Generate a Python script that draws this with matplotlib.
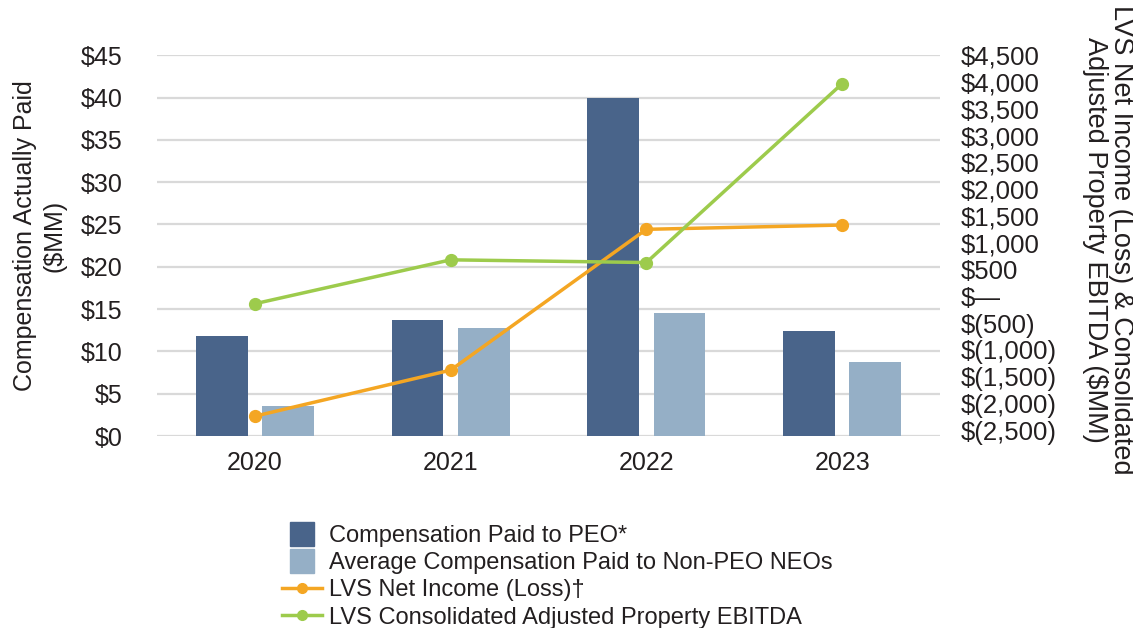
import numpy as np
import matplotlib
matplotlib.use("Agg")
import matplotlib.pyplot as plt
from matplotlib.lines import Line2D

# data
years = ["2020", "2021", "2022", "2023"]
peo_comp = [11.8, 13.7, 39.9, 12.4]          # $MM
non_peo_comp = [3.5, 12.8, 14.5, 8.7]        # $MM
net_income = [-2240, -1380, 1250, 1330]      # $MM
adj_ebitda = [-140, 680, 630, 3970]          # $MM

left_ticks = list(range(0, 50, 5))
right_ticks = list(range(-2500, 5000, 500))

PEO_COLOR = "#49648A"
NEO_COLOR = "#95AFC6"
NI_COLOR = "#F4A623"
EBITDA_COLOR = "#9DCB4C"
TEXT_COLOR = "#231F20"

plt.rcParams["font.family"] = ["Liberation Sans", "DejaVu Sans"]


def right_fmt(v):
    if v == 0:
        return "$\u2014"
    if v < 0:
        return f"$({abs(v):,})"
    return f"${v:,}"


W, H = 1133, 628
fig = plt.figure(figsize=(W / 100, H / 100), dpi=100)
ax = fig.add_axes([157 / W, 1 - 436 / H, (940 - 157) / W, (436 - 55.3) / H])

x = np.arange(len(years))
width = 0.264
offset = 0.169
ax.bar(x - offset, peo_comp, width, color=PEO_COLOR, zorder=2)
ax.bar(x + offset, non_peo_comp, width, color=NEO_COLOR, zorder=2)

ax.set_xlim(-0.5, len(years) - 0.5)
ax.set_ylim(0, 45)
ax.set_yticks(left_ticks)
ax.set_yticklabels([f"${t}" for t in left_ticks])
ax.set_xticks(x)
ax.set_xticklabels(years)
ax.yaxis.grid(True, color="#D9D9D9", linewidth=1.6, zorder=0)
ax.set_axisbelow(True)
for s in ax.spines.values():
    s.set_visible(False)
ax.tick_params(axis="both", length=0, colors=TEXT_COLOR, labelsize=18)
ax.tick_params(axis="y", pad=25)
ax.tick_params(axis="x", pad=11)

ax2 = ax.twinx()
ax2.plot(x, net_income, color=NI_COLOR, lw=2.5, marker="o", ms=8.5, zorder=3)
ax2.plot(x, adj_ebitda, color=EBITDA_COLOR, lw=2.5, marker="o", ms=8.5, zorder=3)
ax2.set_ylim(-2610, 4440)
ax2.set_yticks(right_ticks)
ax2.set_yticklabels([right_fmt(t) for t in right_ticks])
for s in ax2.spines.values():
    s.set_visible(False)
ax2.tick_params(axis="y", length=0, colors=TEXT_COLOR, labelsize=18.5, pad=15)

# axis titles
fig.text(40 / W, 1 - 236 / H, "Compensation Actually Paid\n($MM)", rotation=90,
         ha="center", va="center", multialignment="center",
         fontsize=18, linespacing=1.3, color=TEXT_COLOR)
fig.text(1108 / W, 1 - 240 / H,
         "LVS Net Income (Loss) & Consolidated\nAdjusted Property EBITDA ($MM)",
         rotation=270, ha="center", va="center", multialignment="center",
         fontsize=19.5, linespacing=1.0, color=TEXT_COLOR)

handles = [
    Line2D([], [], color=PEO_COLOR, marker="s", ms=17, ls="none"),
    Line2D([], [], color=NEO_COLOR, marker="s", ms=17, ls="none"),
    Line2D([], [], color=NI_COLOR, lw=2.5, marker="o", ms=7),
    Line2D([], [], color=EBITDA_COLOR, lw=2.5, marker="o", ms=7),
]
labels = [
    "Compensation Paid to PEO*",
    "Average Compensation Paid to Non-PEO NEOs",
    "LVS Net Income (Loss)\u2020",
    "LVS Consolidated Adjusted Property EBITDA",
]
leg = fig.legend(handles, labels, loc="upper left",
                 bbox_to_anchor=(282 / W, 1 - 525 / H),
                 frameon=False, fontsize=17, labelspacing=0.22,
                 handlelength=1.7, handletextpad=0.3,
                 borderpad=0, borderaxespad=0)
for t in leg.get_texts():
    t.set_color(TEXT_COLOR)

fig.savefig("out.png", dpi=100)
